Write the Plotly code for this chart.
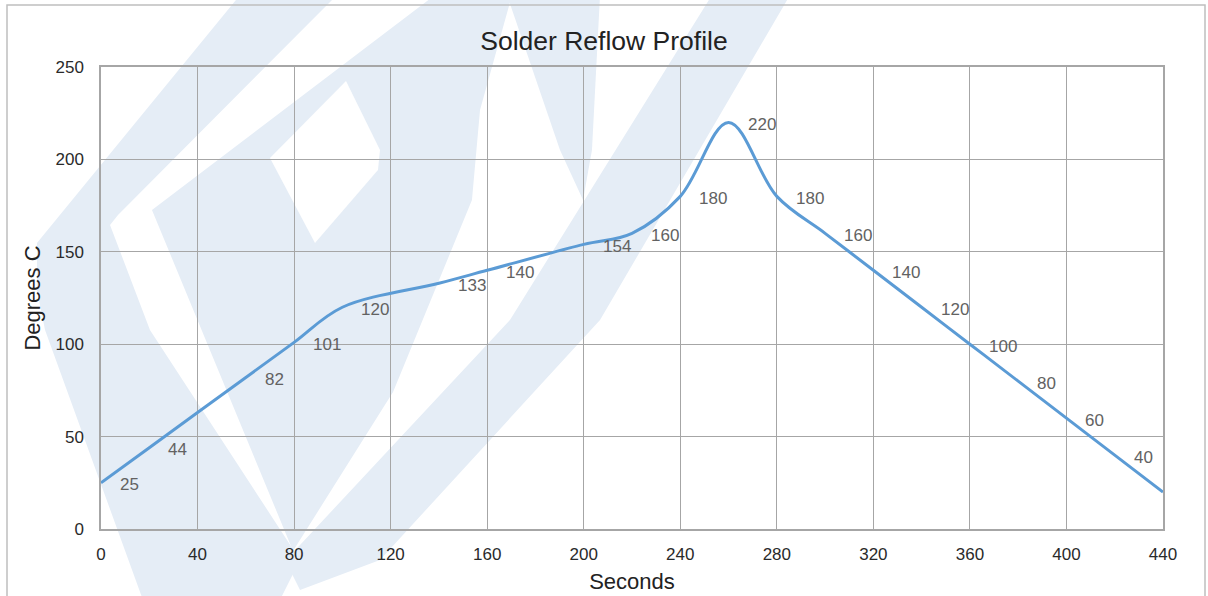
import plotly.graph_objects as go

# ---- data ----
seconds = [0, 20, 60, 80, 100, 140, 160, 200, 220, 240, 260, 280, 300, 320, 340, 360, 380, 400, 420, 440]
temps = [25, 44, 82, 101, 120, 133, 140, 154, 160, 180, 220, 180, 160, 140, 120, 100, 80, 60, 40, 20]
labels = ["25", "44", "82", "101", "120", "133", "140", "154", "160", "180", "220", "180", "160",
          "140", "120", "100", "80", "60", "40", ""]
x_ticks = list(range(0, 441, 40))
y_ticks = list(range(0, 251, 50))

W, H = 1208, 596
L, R, T, B = 101, 45, 67, 67
PW, PH = W - L - R, H - T - B


def px(x, y):
    return (x - L) / PW, (H - B - y) / PH


def path(pts):
    s = ""
    for i, (x, y) in enumerate(pts):
        a, b = px(x, y)
        s += ("M" if i == 0 else "L") + f"{a:.4f},{b:.4f} "
    return s + "Z"


wm = "#e5edf6"
polys = [
    ([(240, -5), (337, -5), (118, 215), (110, 225), (150, 330), (300, 560), (280, 600), (143, 600),
      (45, 330), (37, 290), (37, 243)], wm),
    ([(435, -5), (512, -5), (480, 110), (472, 200), (393, 392), (293, 551), (152, 210)], wm),
    ([(346, 81), (380, 150), (378, 170), (315, 243), (270, 158)], "white"),
    ([(712, -5), (790, -5), (600, 320), (380, 560), (300, 590), (285, 560), (300, 545), (510, 320)], wm),
    ([(507, -5), (600, -5), (592, 150), (583, 200), (560, 150)], wm),
]

shapes = []
for pts, col in polys:
    shapes.append(dict(type="path", xref="paper", yref="paper", path=path(pts),
                       fillcolor=col, line=dict(width=0), layer="below"))
# outer chart border
x0, y0 = px(7, 5)
x1, y1 = px(1205, 620)
shapes.append(dict(type="rect", xref="paper", yref="paper", x0=x0, y0=y1, x1=x1, y1=y0,
                   line=dict(color="#bfbfbf", width=1.5), fillcolor="rgba(0,0,0,0)", layer="below"))

FONT = "Liberation Sans, Arial, sans-serif"

fig = go.Figure()
fig.add_trace(go.Scatter(
    x=seconds, y=temps, mode="lines",
    line=dict(color="#5b9bd5", width=3, shape="spline", smoothing=1.0),
    hoverinfo="x+y", showlegend=False,
))

annotations = []
for xv, yv, lab in zip(seconds, temps, labels):
    if lab:
        annotations.append(dict(x=xv, y=yv, text=lab, showarrow=False, xanchor="left",
                                yanchor="middle", xshift=17, yshift=-2,
                                font=dict(family=FONT, size=17, color="#626262")))

fig.update_layout(
    width=W, height=H,
    margin=dict(l=L, r=R, t=T, b=B, pad=0, autoexpand=False),
    paper_bgcolor="white",
    plot_bgcolor="rgba(0,0,0,0)",
    title=dict(text="Solder Reflow Profile", x=0.5, xanchor="center", y=1 - 41 / H, yanchor="middle",
               font=dict(family=FONT, size=26.5, color="#222222")),
    shapes=shapes,
    annotations=annotations,
    xaxis=dict(
        range=[0, 440], tickvals=x_ticks, ticktext=[str(v) for v in x_ticks],
        showgrid=True, gridcolor="#a6a6a6", gridwidth=1.2,
        showline=True, linecolor="#a6a6a6", linewidth=1.5, mirror=True,
        zeroline=False, ticks="", ticklen=0, ticklabelstandoff=9, automargin=False,
        tickfont=dict(family=FONT, size=17, color="#2a2a2a"),
        title=dict(text="Seconds", standoff=10,
                   font=dict(family=FONT, size=22, color="#222222")),
    ),
    yaxis=dict(
        range=[0, 250], tickvals=y_ticks, ticktext=[str(v) for v in y_ticks],
        showgrid=True, gridcolor="#a6a6a6", gridwidth=1.2,
        showline=True, linecolor="#a6a6a6", linewidth=1.5, mirror=True,
        zeroline=False, ticks="", ticklen=0, ticklabelstandoff=12, automargin=False,
        tickfont=dict(family=FONT, size=17, color="#2a2a2a"),
        title=dict(text="Degrees C", standoff=9,
                   font=dict(family=FONT, size=22, color="#222222")),
    ),
)

fig.write_html("out.html", config={"displayModeBar": False},
               post_script="document.body.style.margin='0';document.body.style.overflow='hidden';")
